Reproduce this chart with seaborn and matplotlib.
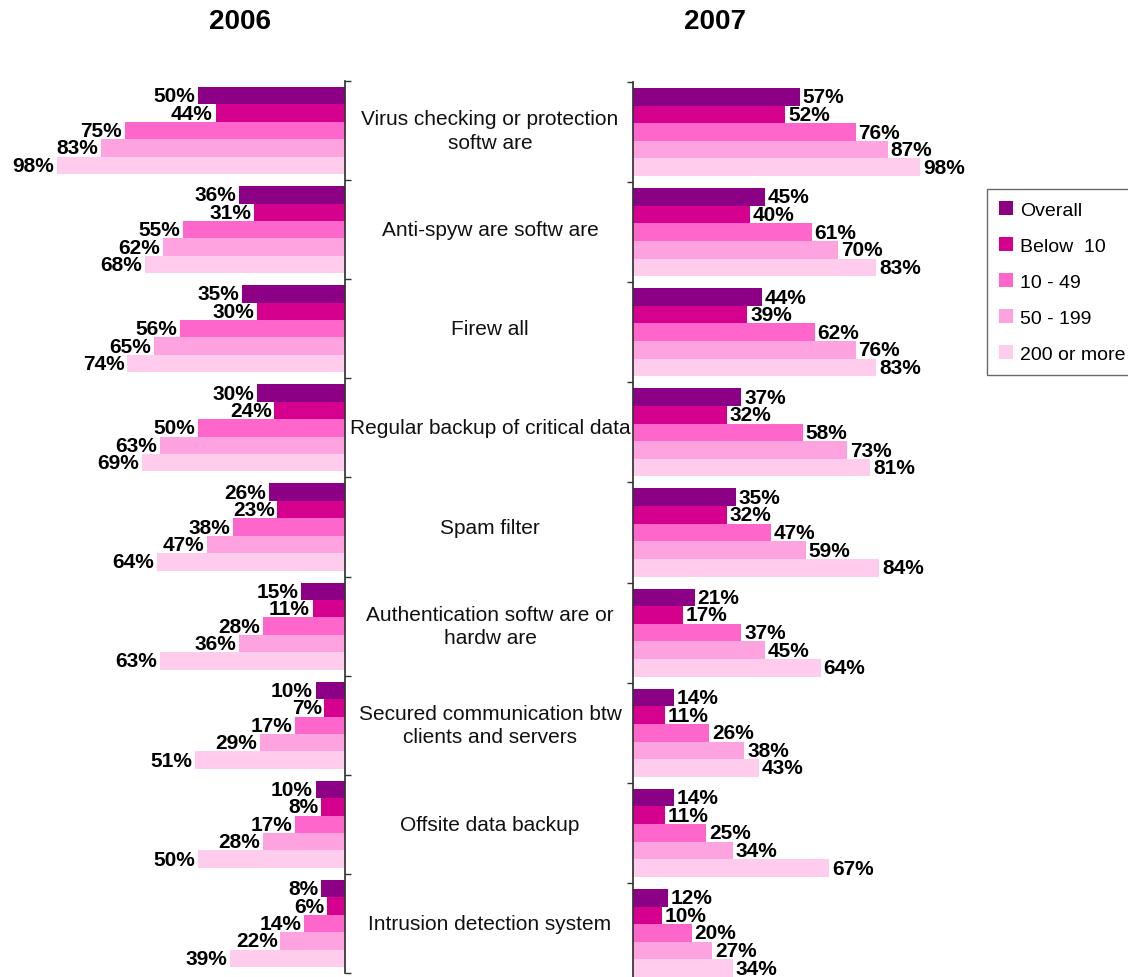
import numpy as np
import pandas as pd
import matplotlib
matplotlib.use("Agg")
import matplotlib.pyplot as plt
import seaborn as sns
from matplotlib.patches import Patch
from matplotlib.transforms import blended_transform_factory

# Security measures (top to bottom)
categories = [
    "Virus checking or protection\nsoftw are",
    "Anti-spyw are softw are",
    "Firew all",
    "Regular backup of critical data",
    "Spam filter",
    "Authentication softw are or\nhardw are",
    "Secured communication btw\nclients and servers",
    "Offsite data backup",
    "Intrusion detection system",
]

# Enterprise size classes
size_groups = ["Overall", "Below  10", "10 - 49", "50 - 199", "200 or more"]

# Share of enterprises (%) in 2006
overall_2006 = [50, 36, 35, 30, 26, 15, 10, 10, 8]
below10_2006 = [44, 31, 30, 24, 23, 11, 7, 8, 6]
s10_49_2006 = [75, 55, 56, 50, 38, 28, 17, 17, 14]
s50_199_2006 = [83, 62, 65, 63, 47, 36, 29, 28, 22]
s200_2006 = [98, 68, 74, 69, 64, 63, 51, 50, 39]

# Share of enterprises (%) in 2007
overall_2007 = [57, 45, 44, 37, 35, 21, 14, 14, 12]
below10_2007 = [52, 40, 39, 32, 32, 17, 11, 11, 10]
s10_49_2007 = [76, 61, 62, 58, 47, 37, 26, 25, 20]
s50_199_2007 = [87, 70, 76, 73, 59, 45, 38, 34, 27]
s200_2007 = [98, 83, 83, 81, 84, 64, 43, 67, 34]

colors = ["#8B0085", "#D6008F", "#FF66CC", "#FFA3E0", "#FFCCEE"]

sns.set_theme(style="white")
plt.rcParams["font.family"] = ["Liberation Sans", "DejaVu Sans"]
plt.rcParams["text.color"] = "black"


def long_frame(series):
    rows = []
    for grp, vals in zip(size_groups, series):
        for cat, v in zip(categories, vals):
            rows.append({"category": cat, "size": grp, "value": v})
    return pd.DataFrame(rows)


df06 = long_frame([overall_2006, below10_2006, s10_49_2006, s50_199_2006, s200_2006])
df07 = long_frame([overall_2007, below10_2007, s10_49_2007, s50_199_2007, s200_2007])

W, H = 1128, 978
fig = plt.figure(figsize=(W / 100, H / 100), dpi=100)

ax_l = fig.add_axes([51 / W, 1 - 974 / H, 294 / W, (974 - 82) / H])
ax_r = fig.add_axes([633 / W, 1 - 984 / H, 293 / W, (984 - 83) / H])

spine_color = "#333333"
for ax, df, inverted in ((ax_l, df06, True), (ax_r, df07, False)):
    sns.barplot(data=df, x="value", y="category", hue="size", orient="h",
                order=categories, hue_order=size_groups, palette=colors,
                saturation=1, width=0.88, legend=False, linewidth=0,
                edgecolor="none", ax=ax)
    if inverted:
        ax.set_xlim(100, 0)
    else:
        ax.set_xlim(0, 100)
    ax.set_ylim(len(categories) - 0.5, -0.5)
    ax.set_xlabel("")
    ax.set_ylabel("")
    ax.set_xticks([])
    ax.set_yticks(np.arange(-0.5, len(categories), 1.0))
    ax.set_yticklabels([])
    for s in ax.spines.values():
        s.set_visible(False)
    for c in ax.containers:
        ax.bar_label(c, fmt="%d%%", padding=2, fontsize=15,
                     fontweight="bold", color="black")

# Left panel grows leftwards from its right-hand spine
ax_l.yaxis.tick_right()
ax_l.spines["right"].set_visible(True)
ax_l.spines["right"].set_color(spine_color)
ax_l.tick_params(axis="y", direction="out", length=4, width=1,
                 color=spine_color, right=True, left=False)

ax_r.spines["left"].set_visible(True)
ax_r.spines["left"].set_color(spine_color)
ax_r.tick_params(axis="y", direction="out", length=4, width=1,
                 color=spine_color, left=True, right=False)

# Category names between the two panels
tr = blended_transform_factory(fig.transFigure, ax_l.transData)
for i, cat in enumerate(categories):
    ax_l.text(490 / W, i, cat, transform=tr, ha="center", va="center",
              fontsize=15, color="#111111", linespacing=1.3)

fig.text(240 / W, 1 - 22 / H, "2006", ha="center", va="center",
         fontsize=20, fontweight="bold", color="black")
fig.text(715 / W, 1 - 22 / H, "2007", ha="center", va="center",
         fontsize=20, fontweight="bold", color="black")

handles = [Patch(facecolor=c, edgecolor="none") for c in colors]
leg = fig.legend(handles, size_groups, loc="upper left",
                 bbox_to_anchor=(987 / W, 1 - 190 / H), fontsize=14,
                 frameon=True, fancybox=False, edgecolor="#444444",
                 handlelength=0.7, handleheight=0.7, handletextpad=0.4,
                 labelspacing=0.95, borderpad=0.62, borderaxespad=0)
leg.get_frame().set_linewidth(1)
for t in leg.get_texts():
    t.set_color("black")

fig.savefig("out.png", dpi=100)
